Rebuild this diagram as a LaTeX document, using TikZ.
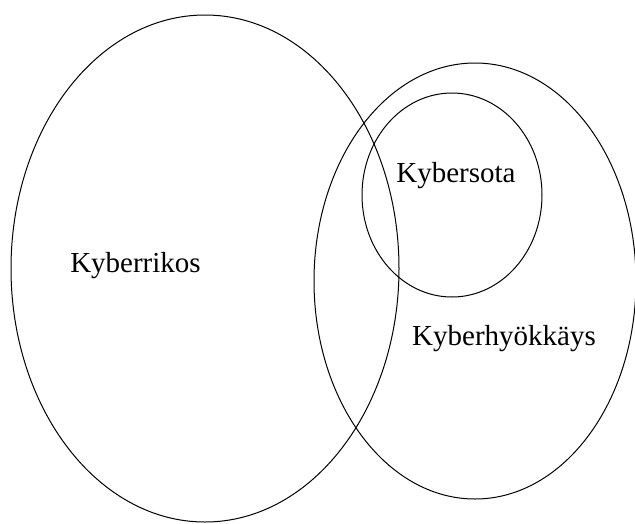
\documentclass[tikz,border=0pt]{standalone}
\usepackage{fontspec}
\setmainfont{Liberation Serif}
\usetikzlibrary{shapes.geometric}

\begin{document}
\begin{tikzpicture}[x=1pt,y=-1pt,
  set/.style={draw=black,ellipse,line width=1pt,inner sep=0pt},
  setlabel/.style={anchor=base,inner sep=0pt,font=\fontsize{29}{34}\selectfont}]
\useasboundingbox (0,0) rectangle (635,523);
\node[set,minimum width=388pt,minimum height=507pt] (rikos) at (205,268.5) {};
\node[set,minimum width=322pt,minimum height=436pt] (hyokkays) at (475,281) {};
\node[set,minimum width=180pt,minimum height=204pt] (sota) at (452,195) {};

\node[setlabel] (rikostext) at (135.5,272) {Kyberrikos};
\node[setlabel] (sotatext) at (456,182) {Kybersota};
\node[setlabel] (hyokkaystext) at (504,345) {Kyberhyökkäys};
\end{tikzpicture}
\end{document}
